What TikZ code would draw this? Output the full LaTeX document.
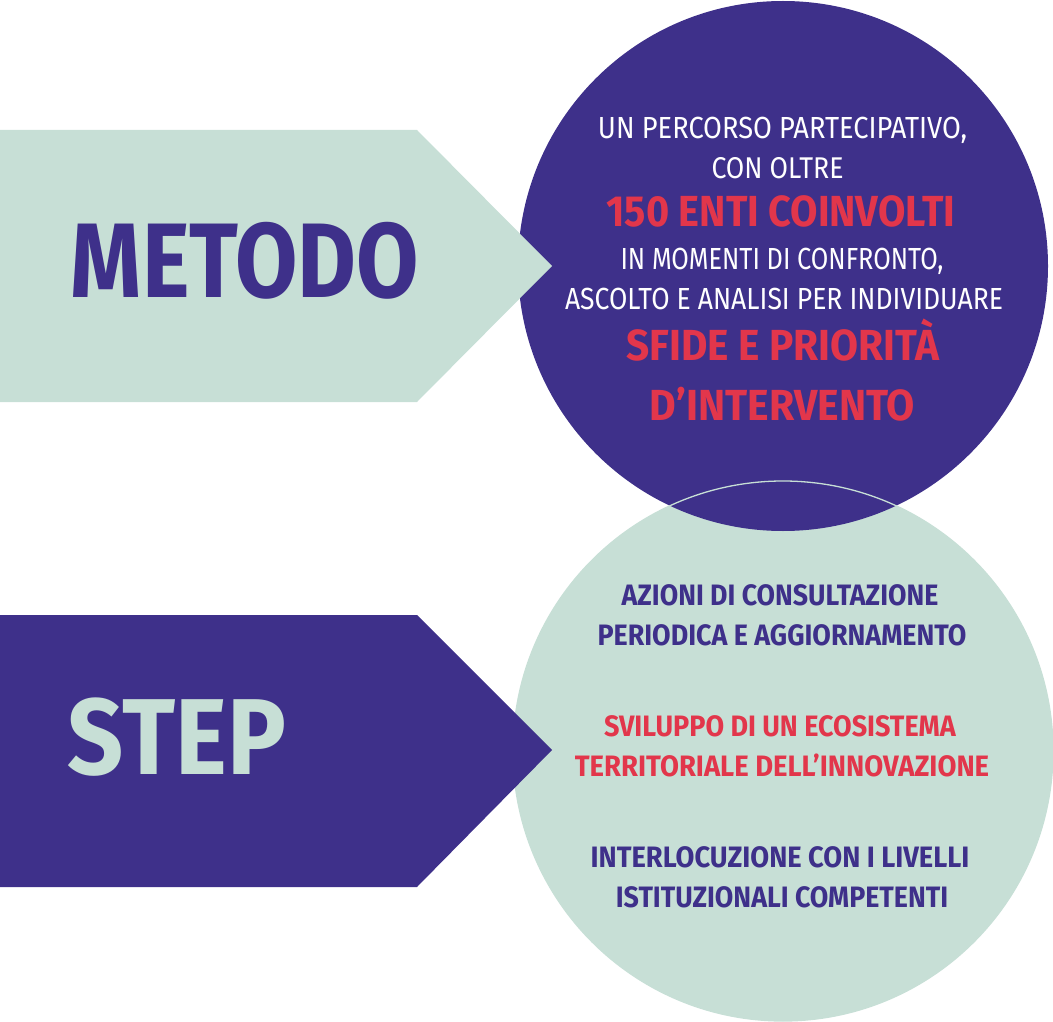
\documentclass[tikz,border=0pt]{standalone}
\usepackage{fontspec}
\setmainfont{Fira Sans}
\usepackage{graphicx}
\definecolor{purp}{HTML}{3E308A}
\definecolor{mint}{HTML}{C7DFD6}
\definecolor{rossa}{HTML}{E2364B}
\newcommand{\fitw}[3]{{\fontsize{#2}{#2}\selectfont\resizebox{#1pt}{\height}{#3}}}
\tikzset{
  txt/.style={inner sep=0pt, outer sep=0pt, anchor=base},
  wline/.style={txt, text=white},
  rline/.style={txt, text=rossa, font=\bfseries},
  pline/.style={txt, text=purp, font=\bfseries},
}
\begin{document}
\begin{tikzpicture}[x=1pt,y=-1pt]
\useasboundingbox (0,0) rectangle (1053,1022);
% circles
\fill[mint] (783,751) circle[radius=270];
\fill[purp] (783,266) circle[radius=265];
\draw[mint, line width=1.3pt] (783,751) circle[radius=270];
% arrows
\fill[mint] (0,130) -- (417,130) -- (552,266) -- (417,402) -- (0,402) -- cycle;
\fill[purp] (0,615) -- (417,615) -- (552,750) -- (417,887) -- (0,887) -- cycle;
% arrow labels
\node[txt, text=purp, font=\bfseries] (metodo) at (245,298) {\fitw{348}{106}{METODO}};
\node[txt, text=mint, font=\bfseries] (step) at (177,774) {\fitw{218}{108}{STEP}};
% purple circle text
\node[wline] (m1) at (782.5,139) {\fitw{369}{30.5}{UN PERCORSO PARTECIPATIVO,}};
\node[wline] (m2) at (777.5,179) {\fitw{132}{30}{CON OLTRE}};
\node[rline] (m3) at (781,226.7) {\fitw{349}{43.5}{150 ENTI COINVOLTI}};
\node[wline] (m4) at (782,269.3) {\fitw{323}{30.5}{IN MOMENTI DI CONFRONTO,}};
\node[wline] (m5) at (784,309.3) {\fitw{438}{30.5}{ASCOLTO E ANALISI PER INDIVIDUARE}};
\node[rline] (m6) at (782.7,360.7) {\fitw{313}{43.5}{SFIDE E PRIORITÀ}};
\node[rline] (m7) at (782.5,420) {\fitw{265}{43.5}{D’INTERVENTO}};
% green circle text
\node[pline] (s1) at (780,605) {\fitw{316.7}{29.5}{AZIONI DI CONSULTAZIONE}};
\node[pline] (s2) at (782,645) {\fitw{369}{29.5}{PERIODICA E AGGIORNAMENTO}};
\node[rline] (s3) at (780,736.7) {\fitw{351.7}{29.5}{SVILUPPO DI UN ECOSISTEMA}};
\node[rline] (s4) at (782,776) {\fitw{414.3}{29.5}{TERRITORIALE DELL’INNOVAZIONE}};
\node[pline] (s5) at (780,867.7) {\fitw{378.7}{29.5}{INTERLOCUZIONE CON I LIVELLI}};
\node[pline] (s6) at (782,907.3) {\fitw{332.3}{29.5}{ISTITUZIONALI COMPETENTI}};
\end{tikzpicture}
\end{document}
